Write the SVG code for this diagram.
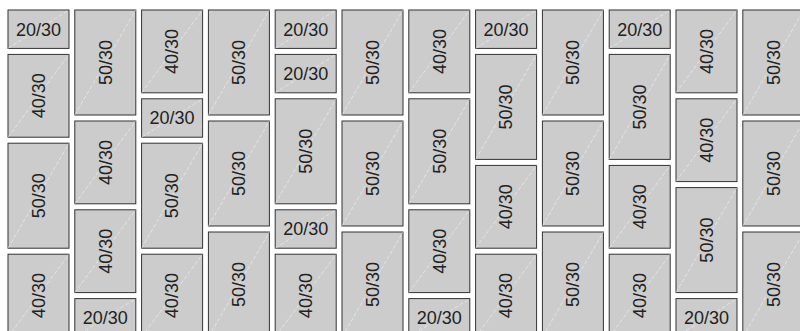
<svg xmlns="http://www.w3.org/2000/svg" width="800" height="331" viewBox="0 0 800 331">
<style>
rect{fill:#cccccc;stroke:#333;stroke-width:1}
line{stroke:#fff;stroke-width:0.8;stroke-dasharray:4 2;opacity:0.6}
text{font-family:"Liberation Sans",Arial,sans-serif;font-size:18px;fill:#222;text-anchor:middle}
</style>
<rect x="0" y="0" width="800" height="331" style="fill:#fff;stroke:none"/>
<!-- column 0 -->
<g id="c0t0"><rect x="8" y="10" width="61" height="38.4"/><line x1="8" y1="48.4" x2="69" y2="10"/><text x="38.5" y="29.2" dy="0.35em">20/30</text></g>
<g id="c0t1"><rect x="8" y="54.4" width="61" height="82.8"/><line x1="8" y1="137.2" x2="69" y2="54.4"/><text x="38.5" y="95.8" dy="0.35em" transform="rotate(-90 38.5 95.8)">40/30</text></g>
<g id="c0t2"><rect x="8" y="143.2" width="61" height="105"/><line x1="8" y1="248.2" x2="69" y2="143.2"/><text x="38.5" y="195.7" dy="0.35em" transform="rotate(-90 38.5 195.7)">50/30</text></g>
<g id="c0t3"><rect x="8" y="254.2" width="61" height="82.8"/><line x1="8" y1="337" x2="69" y2="254.2"/><text x="38.5" y="295.6" dy="0.35em" transform="rotate(-90 38.5 295.6)">40/30</text></g>
<!-- column 1 -->
<g id="c1t0"><rect x="74.8" y="10" width="61" height="105"/><line x1="74.8" y1="115" x2="135.8" y2="10"/><text x="105.3" y="62.5" dy="0.35em" transform="rotate(-90 105.3 62.5)">50/30</text></g>
<g id="c1t1"><rect x="74.8" y="121" width="61" height="82.8"/><line x1="74.8" y1="203.8" x2="135.8" y2="121"/><text x="105.3" y="162.4" dy="0.35em" transform="rotate(-90 105.3 162.4)">40/30</text></g>
<g id="c1t2"><rect x="74.8" y="209.8" width="61" height="82.8"/><line x1="74.8" y1="292.6" x2="135.8" y2="209.8"/><text x="105.3" y="251.2" dy="0.35em" transform="rotate(-90 105.3 251.2)">40/30</text></g>
<g id="c1t3"><rect x="74.8" y="298.6" width="61" height="38.4"/><line x1="74.8" y1="337" x2="135.8" y2="298.6"/><text x="105.3" y="317.8" dy="0.35em">20/30</text></g>
<!-- column 2 -->
<g id="c2t0"><rect x="141.6" y="10" width="61" height="82.8"/><line x1="141.6" y1="92.8" x2="202.6" y2="10"/><text x="172.1" y="51.4" dy="0.35em" transform="rotate(-90 172.1 51.4)">40/30</text></g>
<g id="c2t1"><rect x="141.6" y="98.8" width="61" height="38.4"/><line x1="141.6" y1="137.2" x2="202.6" y2="98.8"/><text x="172.1" y="118" dy="0.35em">20/30</text></g>
<g id="c2t2"><rect x="141.6" y="143.2" width="61" height="105"/><line x1="141.6" y1="248.2" x2="202.6" y2="143.2"/><text x="172.1" y="195.7" dy="0.35em" transform="rotate(-90 172.1 195.7)">50/30</text></g>
<g id="c2t3"><rect x="141.6" y="254.2" width="61" height="82.8"/><line x1="141.6" y1="337" x2="202.6" y2="254.2"/><text x="172.1" y="295.6" dy="0.35em" transform="rotate(-90 172.1 295.6)">40/30</text></g>
<!-- column 3 -->
<g id="c3t0"><rect x="208.4" y="10" width="61" height="105"/><line x1="208.4" y1="115" x2="269.4" y2="10"/><text x="238.9" y="62.5" dy="0.35em" transform="rotate(-90 238.9 62.5)">50/30</text></g>
<g id="c3t1"><rect x="208.4" y="121" width="61" height="105"/><line x1="208.4" y1="226" x2="269.4" y2="121"/><text x="238.9" y="173.5" dy="0.35em" transform="rotate(-90 238.9 173.5)">50/30</text></g>
<g id="c3t2"><rect x="208.4" y="232" width="61" height="105"/><line x1="208.4" y1="337" x2="269.4" y2="232"/><text x="238.9" y="284.5" dy="0.35em" transform="rotate(-90 238.9 284.5)">50/30</text></g>
<!-- column 4 -->
<g id="c4t0"><rect x="275.2" y="10" width="61" height="38.4"/><line x1="275.2" y1="48.4" x2="336.2" y2="10"/><text x="305.7" y="29.2" dy="0.35em">20/30</text></g>
<g id="c4t1"><rect x="275.2" y="54.4" width="61" height="38.4"/><line x1="275.2" y1="92.8" x2="336.2" y2="54.4"/><text x="305.7" y="73.6" dy="0.35em">20/30</text></g>
<g id="c4t2"><rect x="275.2" y="98.8" width="61" height="105"/><line x1="275.2" y1="203.8" x2="336.2" y2="98.8"/><text x="305.7" y="151.3" dy="0.35em" transform="rotate(-90 305.7 151.3)">50/30</text></g>
<g id="c4t3"><rect x="275.2" y="209.8" width="61" height="38.4"/><line x1="275.2" y1="248.2" x2="336.2" y2="209.8"/><text x="305.7" y="229" dy="0.35em">20/30</text></g>
<g id="c4t4"><rect x="275.2" y="254.2" width="61" height="82.8"/><line x1="275.2" y1="337" x2="336.2" y2="254.2"/><text x="305.7" y="295.6" dy="0.35em" transform="rotate(-90 305.7 295.6)">40/30</text></g>
<!-- column 5 -->
<g id="c5t0"><rect x="342" y="10" width="61" height="105"/><line x1="342" y1="115" x2="403" y2="10"/><text x="372.5" y="62.5" dy="0.35em" transform="rotate(-90 372.5 62.5)">50/30</text></g>
<g id="c5t1"><rect x="342" y="121" width="61" height="105"/><line x1="342" y1="226" x2="403" y2="121"/><text x="372.5" y="173.5" dy="0.35em" transform="rotate(-90 372.5 173.5)">50/30</text></g>
<g id="c5t2"><rect x="342" y="232" width="61" height="105"/><line x1="342" y1="337" x2="403" y2="232"/><text x="372.5" y="284.5" dy="0.35em" transform="rotate(-90 372.5 284.5)">50/30</text></g>
<!-- column 6 -->
<g id="c6t0"><rect x="408.8" y="10" width="61" height="82.8"/><line x1="408.8" y1="92.8" x2="469.8" y2="10"/><text x="439.3" y="51.4" dy="0.35em" transform="rotate(-90 439.3 51.4)">40/30</text></g>
<g id="c6t1"><rect x="408.8" y="98.8" width="61" height="105"/><line x1="408.8" y1="203.8" x2="469.8" y2="98.8"/><text x="439.3" y="151.3" dy="0.35em" transform="rotate(-90 439.3 151.3)">50/30</text></g>
<g id="c6t2"><rect x="408.8" y="209.8" width="61" height="82.8"/><line x1="408.8" y1="292.6" x2="469.8" y2="209.8"/><text x="439.3" y="251.2" dy="0.35em" transform="rotate(-90 439.3 251.2)">40/30</text></g>
<g id="c6t3"><rect x="408.8" y="298.6" width="61" height="38.4"/><line x1="408.8" y1="337" x2="469.8" y2="298.6"/><text x="439.3" y="317.8" dy="0.35em">20/30</text></g>
<!-- column 7 -->
<g id="c7t0"><rect x="475.6" y="10" width="61" height="38.4"/><line x1="475.6" y1="48.4" x2="536.6" y2="10"/><text x="506.1" y="29.2" dy="0.35em">20/30</text></g>
<g id="c7t1"><rect x="475.6" y="54.4" width="61" height="105"/><line x1="475.6" y1="159.4" x2="536.6" y2="54.4"/><text x="506.1" y="106.9" dy="0.35em" transform="rotate(-90 506.1 106.9)">50/30</text></g>
<g id="c7t2"><rect x="475.6" y="165.4" width="61" height="82.8"/><line x1="475.6" y1="248.2" x2="536.6" y2="165.4"/><text x="506.1" y="206.8" dy="0.35em" transform="rotate(-90 506.1 206.8)">40/30</text></g>
<g id="c7t3"><rect x="475.6" y="254.2" width="61" height="82.8"/><line x1="475.6" y1="337" x2="536.6" y2="254.2"/><text x="506.1" y="295.6" dy="0.35em" transform="rotate(-90 506.1 295.6)">40/30</text></g>
<!-- column 8 -->
<g id="c8t0"><rect x="542.4" y="10" width="61" height="105"/><line x1="542.4" y1="115" x2="603.4" y2="10"/><text x="572.9" y="62.5" dy="0.35em" transform="rotate(-90 572.9 62.5)">50/30</text></g>
<g id="c8t1"><rect x="542.4" y="121" width="61" height="105"/><line x1="542.4" y1="226" x2="603.4" y2="121"/><text x="572.9" y="173.5" dy="0.35em" transform="rotate(-90 572.9 173.5)">50/30</text></g>
<g id="c8t2"><rect x="542.4" y="232" width="61" height="105"/><line x1="542.4" y1="337" x2="603.4" y2="232"/><text x="572.9" y="284.5" dy="0.35em" transform="rotate(-90 572.9 284.5)">50/30</text></g>
<!-- column 9 -->
<g id="c9t0"><rect x="609.2" y="10" width="61" height="38.4"/><line x1="609.2" y1="48.4" x2="670.2" y2="10"/><text x="639.7" y="29.2" dy="0.35em">20/30</text></g>
<g id="c9t1"><rect x="609.2" y="54.4" width="61" height="105"/><line x1="609.2" y1="159.4" x2="670.2" y2="54.4"/><text x="639.7" y="106.9" dy="0.35em" transform="rotate(-90 639.7 106.9)">50/30</text></g>
<g id="c9t2"><rect x="609.2" y="165.4" width="61" height="82.8"/><line x1="609.2" y1="248.2" x2="670.2" y2="165.4"/><text x="639.7" y="206.8" dy="0.35em" transform="rotate(-90 639.7 206.8)">40/30</text></g>
<g id="c9t3"><rect x="609.2" y="254.2" width="61" height="82.8"/><line x1="609.2" y1="337" x2="670.2" y2="254.2"/><text x="639.7" y="295.6" dy="0.35em" transform="rotate(-90 639.7 295.6)">40/30</text></g>
<!-- column 10 -->
<g id="c10t0"><rect x="676" y="10" width="61" height="82.8"/><line x1="676" y1="92.8" x2="737" y2="10"/><text x="706.5" y="51.4" dy="0.35em" transform="rotate(-90 706.5 51.4)">40/30</text></g>
<g id="c10t1"><rect x="676" y="98.8" width="61" height="82.8"/><line x1="676" y1="181.6" x2="737" y2="98.8"/><text x="706.5" y="140.2" dy="0.35em" transform="rotate(-90 706.5 140.2)">40/30</text></g>
<g id="c10t2"><rect x="676" y="187.6" width="61" height="105"/><line x1="676" y1="292.6" x2="737" y2="187.6"/><text x="706.5" y="240.1" dy="0.35em" transform="rotate(-90 706.5 240.1)">50/30</text></g>
<g id="c10t3"><rect x="676" y="298.6" width="61" height="38.4"/><line x1="676" y1="337" x2="737" y2="298.6"/><text x="706.5" y="317.8" dy="0.35em">20/30</text></g>
<!-- column 11 -->
<g id="c11t0"><rect x="742.8" y="10" width="61" height="105"/><line x1="742.8" y1="115" x2="803.8" y2="10"/><text x="773.3" y="62.5" dy="0.35em" transform="rotate(-90 773.3 62.5)">50/30</text></g>
<g id="c11t1"><rect x="742.8" y="121" width="61" height="105"/><line x1="742.8" y1="226" x2="803.8" y2="121"/><text x="773.3" y="173.5" dy="0.35em" transform="rotate(-90 773.3 173.5)">50/30</text></g>
<g id="c11t2"><rect x="742.8" y="232" width="61" height="105"/><line x1="742.8" y1="337" x2="803.8" y2="232"/><text x="773.3" y="284.5" dy="0.35em" transform="rotate(-90 773.3 284.5)">50/30</text></g>
</svg>
